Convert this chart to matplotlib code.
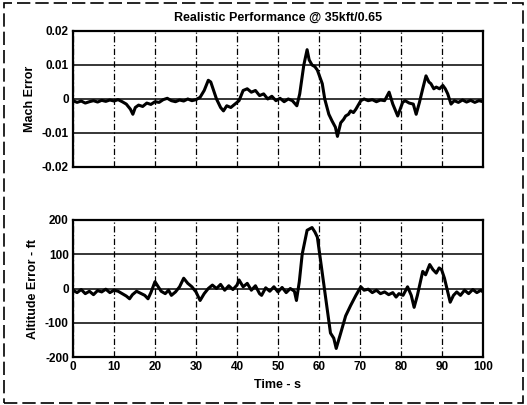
import matplotlib
matplotlib.use("Agg")
import matplotlib.pyplot as plt
from matplotlib.patches import Rectangle
import numpy as np

plt.rcParams['font.family'] = ['Liberation Sans', 'DejaVu Sans']
plt.rcParams['font.weight'] = 'bold'

title = "Realistic Performance @ 35kft/0.65"
mach_ylabel = "Mach Error"
alt_ylabel = "Altitude Error - ft"
xlabel = "Time - s"

# Mach error (values read in units of 1e-3)
mach_t = [0, 1, 2, 3, 4, 5, 6, 7, 8, 9, 10, 11, 12, 13, 14, 14.6, 15.2, 16, 17, 18, 19, 20, 21, 22, 23, 24,
          25, 26, 27, 28, 29, 30, 31, 32, 33, 33.6, 34.3, 35, 36, 36.7, 37.5, 38.5, 39.5, 40.5, 41.5, 42.5,
          43.5, 44.5, 45.5, 46.5, 47.5, 48.5, 49.5, 50.5, 51.5, 52.5, 53.5, 54.6, 55.3, 56.3, 57.1, 57.6,
          58.3, 59.0, 59.6, 60.2, 60.8, 61.4, 62.4, 63.2, 64, 64.5, 65.3, 66, 66.5, 67.2, 67.7, 68.4, 69,
          70.2, 71, 72, 73, 74, 75, 76, 77.1, 78, 79.2, 80.4, 81, 82, 83, 83.7, 84.5, 85.3, 86.1, 86.8,
          87.3, 88, 88.6, 89.4, 90.2, 90.8, 91.4, 92.2, 93, 94, 95, 96, 97, 98, 99, 100]
mach_milli = [-0.5, -1.0, -0.6, -1.2, -0.8, -0.5, -0.9, -0.4, -0.7, -0.3, -0.6, -0.2, -0.8, -1.5, -3.0, -4.5,
              -2.5, -1.8, -2.2, -1.2, -1.6, -0.8, -1.0, -0.2, 0.2, -0.5, -0.8, -0.3, -0.6, 0.0, -0.5, -0.2,
              0.5, 2.5, 5.5, 5.0, 2.5, 0.0, -2.5, -3.5, -2.0, -2.5, -1.5, -0.5, 2.5, 3.0, 2.0, 2.5, 1.0, 1.5,
              0.0, 0.8, -0.5, 0.2, -0.8, 0.0, -0.5, -2.0, 1.5, 10.0, 14.5, 11.5, 10.0, 9.5, 8.5, 6.5, 4.5,
              0.0, -4.5, -6.5, -8.3, -11.0, -7.0, -6.0, -5.0, -4.5, -3.5, -4.0, -3.0, -0.5, 0.0, -0.5, -0.2,
              -0.8, -0.3, -0.5, 2.0, -1.5, -5.0, -1.0, -0.5, -1.2, -1.5, -4.5, -1.0, 3.0, 6.8, 5.0, 4.5, 3.0,
              3.5, 3.0, 4.0, 3.0, 1.5, -1.5, -0.5, -1.0, -0.3, -0.9, -0.4, -1.0, -0.5, -0.8]

# Altitude error (ft)
alt_t = [0, 1, 2, 3, 4, 5, 6, 7, 8, 9, 10, 11, 12, 13, 13.8, 14.5, 15.5, 16.5, 17.5, 18.3, 19, 20, 20.8,
         21.5, 22.5, 23.3, 24, 25, 26, 27, 28, 29, 30, 31, 32, 33, 34, 35, 36, 37, 38, 39, 40, 40.5, 41.5,
         42.5, 43.5, 44.5, 45.5, 46, 47, 48, 49, 50, 51, 52, 53, 54, 54.5, 55.2, 55.9, 57.1, 58.3, 59.0,
         59.6, 60.4, 61.2, 62, 62.8, 63.6, 64.2, 65.3, 66.5, 67.7, 69, 70.2, 71, 72, 73, 74, 75, 76, 77,
         78, 78.8, 79.5, 80.5, 81.6, 82.5, 83.2, 84, 85.3, 86, 87, 87.8, 88.6, 89.3, 89.9, 90.6, 91.2, 92,
         92.8, 93.6, 94.5, 95.5, 96.5, 97.5, 98.5, 99.5, 100]
alt_ft = [-5, -12, -3, -15, -8, -18, -6, -10, -2, -12, -5, -8, -15, -22, -30, -18, -8, -14, -20, -30, -12,
          20, 5, -8, -15, -5, -20, -10, 5, 30, 15, 5, -10, -35, -15, 0, 10, 0, 12, -5, 8, -3, 10, 25, 5, 15,
          -5, 8, -15, -20, 2, -8, 5, -10, 3, -12, 0, -8, -35, 20, 100, 170, 178, 165, 150, 80, 10, -60,
          -130, -145, -175, -130, -80, -50, -20, 5, -5, -2, -12, -5, -15, -10, -18, -12, -25, -15, -20, 5,
          -20, -55, -20, 50, 40, 70, 55, 45, 60, 55, 30, 0, -40, -20, -10, -20, -5, -15, -3, -12, -5, -10]

x_ticks = [0, 10, 20, 30, 40, 50, 60, 70, 80, 90, 100]
mach_ticks = [-0.02, -0.01, 0, 0.01, 0.02]
mach_ticklabels = ["-0.02", "-0.01", "0", "0.01", "0.02"]
alt_ticks = [-200, -100, 0, 100, 200]
alt_ticklabels = ["-200", "-100", "0", "100", "200"]

fig = plt.figure(figsize=(5.27, 4.05), dpi=100)
fig.patch.set_facecolor('white')

ax1 = fig.add_axes([0.1385, 0.5877, 0.778, 0.3358])
ax2 = fig.add_axes([0.1385, 0.1185, 0.778, 0.3383])

def style(ax):
    ax.set_xlim(0, 100)
    ax.set_xticks(x_ticks)
    ax.tick_params(length=0, labelsize=8.5, pad=3)
    for s in ax.spines.values():
        s.set_linewidth(1.6)
        s.set_color('black')
    ax.xaxis.grid(True, color='black', linestyle=(0, (5, 2, 1, 2)), linewidth=0.9)
    ax.yaxis.grid(True, color='black', linestyle='-', linewidth=1.1)
    ax.set_axisbelow(True)

style(ax1)
ax1.plot(np.array(mach_t), np.array(mach_milli) / 1000.0, color='black', linewidth=2.2)
ax1.set_ylim(-0.02, 0.02)
ax1.set_yticks(mach_ticks)
ax1.set_yticklabels(mach_ticklabels)
ax1.set_xticklabels([])
ax1.set_ylabel(mach_ylabel, fontsize=9, fontweight='bold', labelpad=4)
ax1.set_title(title, fontsize=9, fontweight='bold', pad=7)

style(ax2)
ax2.plot(alt_t, alt_ft, color='black', linewidth=2.2)
ax2.set_ylim(-200, 200)
ax2.set_yticks(alt_ticks)
ax2.set_yticklabels(alt_ticklabels)
ax2.set_xticklabels([str(v) for v in x_ticks])
ax2.set_ylabel(alt_ylabel, fontsize=9, fontweight='bold', labelpad=4)
ax2.set_xlabel(xlabel, fontsize=9, fontweight='bold', labelpad=4)

for lab in ax1.get_yticklabels() + ax2.get_yticklabels() + ax2.get_xticklabels():
    lab.set_fontweight('bold')

fig.add_artist(Rectangle((0.008, 0.006), 0.984, 0.986, transform=fig.transFigure,
                         fill=False, edgecolor='black', linewidth=1.2, linestyle=(0, (8, 3))))

fig.savefig("out.png", dpi=100, facecolor='white')
